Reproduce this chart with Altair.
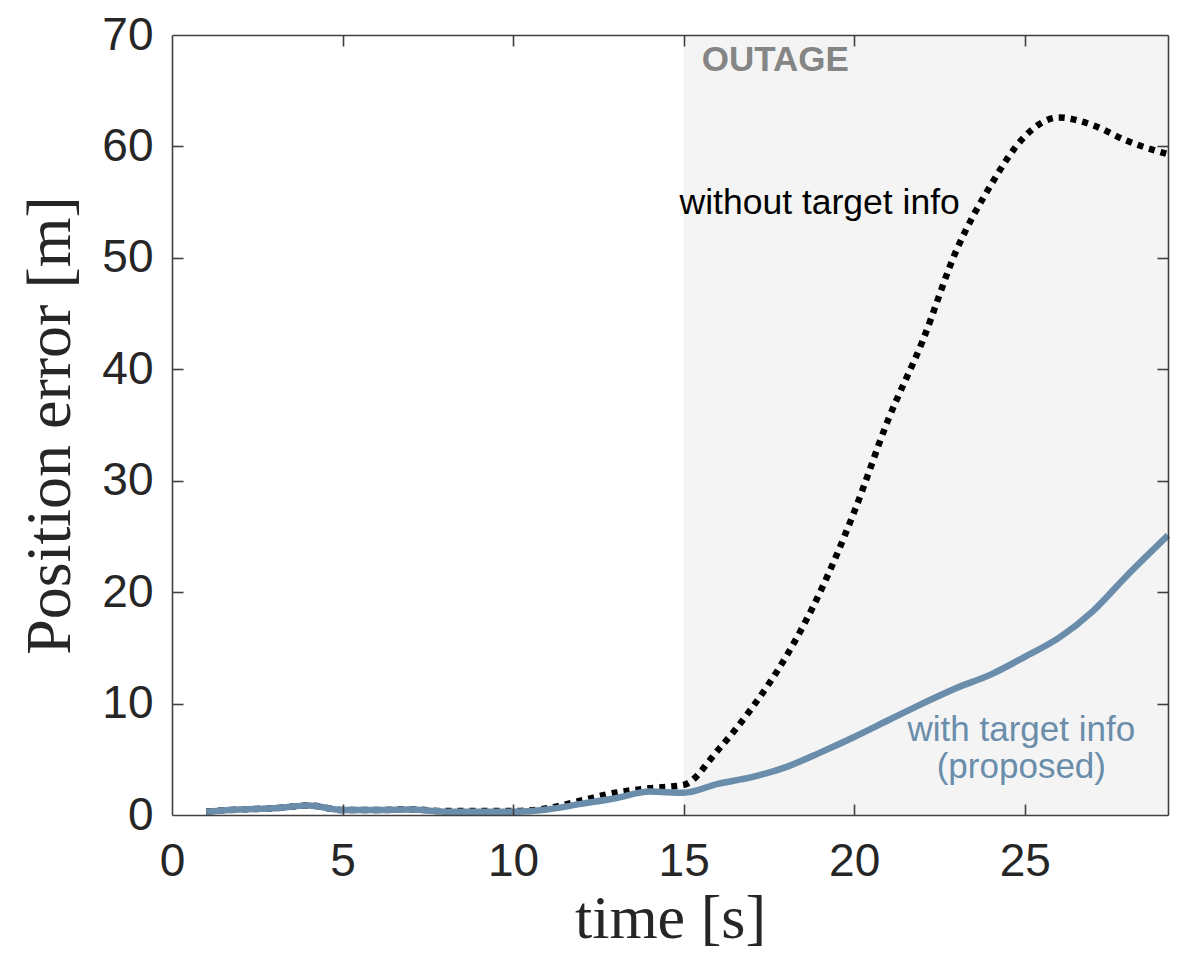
import altair as alt
import pandas as pd

# ---- data ----
time = [1, 2, 3, 4, 5, 6, 7, 8, 9, 10, 11, 12, 13, 14, 15, 16, 17, 18, 19, 20,
        21, 22, 23, 24, 25, 26, 27, 28, 29.2]
err_without = [0.3, 0.5, 0.6, 0.85, 0.45, 0.45, 0.5, 0.35, 0.35, 0.35, 0.6, 1.3,
               2.0, 2.4, 2.7, 5.8, 9.6, 14.2, 20.0, 27.2, 35.5, 42.5, 50.7, 56.5,
               60.9, 62.6, 61.9, 60.5, 59.3]
err_with = [0.3, 0.5, 0.6, 0.85, 0.45, 0.45, 0.5, 0.3, 0.3, 0.3, 0.5, 1.0,
            1.5, 2.1, 2.0, 2.8, 3.4, 4.3, 5.6, 7.0, 8.5, 10.0, 11.4, 12.6,
            14.2, 15.9, 18.3, 21.5, 25.1]
outage_start = [15]
outage_end = [29.2]
x_ticks = [0, 5, 10, 15, 20, 25]
y_ticks = [0, 10, 20, 30, 40, 50, 60, 70]
inner_x_ticks = [5, 10, 15, 20, 25]
inner_y_ticks = [10, 20, 30, 40, 50, 60]

outage_label = ["OUTAGE"]
outage_label_x = [15.53]
outage_label_y = [67.8]
without_label = ["without target info"]
without_label_x = [14.88]
without_label_y = [53.9]
with_label = ["with target info", "(proposed)"]
with_label_x = [24.9, 24.9]
with_label_y = [6.68, 3.29]

W, H = 996, 780
XMAX = 29.2
BLUE = "#6a8dab"
AX = "#262626"
FRAME = "#404040"

df = pd.DataFrame({"time": time, "without": err_without, "with": err_with})
out_df = pd.DataFrame({"start": outage_start, "end": outage_end})
t_out = pd.DataFrame({"x": outage_label_x, "y": outage_label_y, "t": outage_label})
t_wo = pd.DataFrame({"x": without_label_x, "y": without_label_y, "t": without_label})
t_w = pd.DataFrame({"x": with_label_x, "y": with_label_y, "t": with_label})

xs = alt.Scale(domain=[0, XMAX], nice=False, zero=False)
ys = alt.Scale(domain=[0, 70], nice=False, zero=False)


def tick_axis(orient, values, offset):
    return alt.Axis(orient=orient, offset=offset, values=values, labels=False,
                    title=None, grid=False, ticks=True, tickSize=11,
                    tickColor=FRAME, tickWidth=1.6, domain=True,
                    domainColor=FRAME, domainWidth=1.6, zindex=2)


x_label_axis = alt.Axis(orient="bottom", values=x_ticks, title="time [s]",
                        ticks=False, tickSize=0, domain=False, grid=False,
                        labelFlush=False, labelPadding=24, labelFontSize=46,
                        labelFont="Liberation Sans", labelColor=AX,
                        titleFont="Liberation Serif", titleFontSize=62,
                        titleFontWeight="normal", titleColor=AX, titlePadding=4)
y_label_axis = alt.Axis(orient="left", values=y_ticks, title="Position error [m]",
                        ticks=False, tickSize=0, domain=False, grid=False,
                        labelPadding=19, labelFontSize=46,
                        labelFont="Liberation Sans", labelColor=AX,
                        titleFont="Liberation Serif", titleFontSize=64,
                        titleFontWeight="normal", titleColor=AX, titlePadding=19)

bg = alt.Chart(out_df).mark_rect(color="#f4f4f4").encode(
    x=alt.X("start:Q", scale=xs, axis=x_label_axis),
    x2="end:Q",
    y=alt.value(0),
    y2=alt.value(H),
)

line_wo = alt.Chart(df).mark_line(
    color="black", strokeWidth=6.5, strokeDash=[6, 6], strokeCap="butt",
    interpolate="monotone"
).encode(
    x=alt.X("time:Q", scale=xs, axis=tick_axis("top", inner_x_ticks, -H)),
    y=alt.Y("without:Q", scale=ys, axis=y_label_axis),
)

line_w = alt.Chart(df).mark_line(
    color=BLUE, strokeWidth=6.5, interpolate="monotone"
).encode(
    x=alt.X("time:Q", scale=xs, axis=tick_axis("bottom", inner_x_ticks, -H)),
    y=alt.Y("with:Q", scale=ys, axis=tick_axis("right", inner_y_ticks, -W)),
)

txt_out = alt.Chart(t_out).mark_text(
    font="Liberation Sans", fontSize=35, fontWeight="bold", color="#858585",
    align="left", baseline="middle"
).encode(
    x=alt.X("x:Q", scale=xs, axis=None),
    y=alt.Y("y:Q", scale=ys, axis=tick_axis("left", inner_y_ticks, -W)),
    text="t:N",
)

txt_wo = alt.Chart(t_wo).mark_text(
    font="Liberation Sans", fontSize=35.5, color="black", align="left",
    baseline="alphabetic"
).encode(
    x=alt.X("x:Q", scale=xs, axis=None),
    y=alt.Y("y:Q", scale=ys, axis=None),
    text="t:N",
)

txt_w = alt.Chart(t_w).mark_text(
    font="Liberation Sans", fontSize=35, color=BLUE, align="center",
    baseline="alphabetic"
).encode(
    x=alt.X("x:Q", scale=xs, axis=None),
    y=alt.Y("y:Q", scale=ys, axis=None),
    text="t:N",
)

chart = alt.layer(bg, line_wo, line_w, txt_out, txt_wo, txt_w).resolve_axis(
    x="independent", y="independent"
).properties(
    width=W, height=H,
    autosize=alt.AutoSizeParams(type="none"),
    padding={"left": 164, "top": 27, "right": 5, "bottom": 144},
).configure_view(stroke="transparent")

chart.save("out.html", embed_options={"renderer": "svg", "actions": False})
